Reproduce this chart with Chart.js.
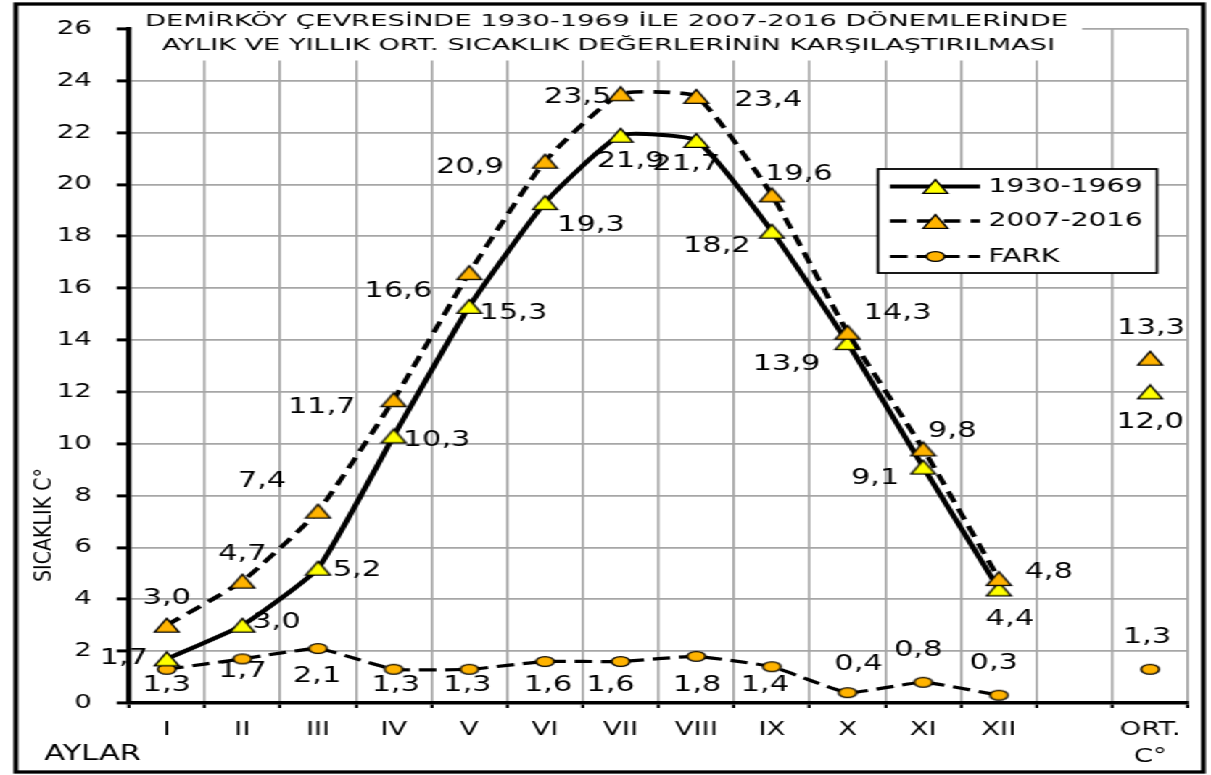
<!DOCTYPE html>
<html><head><meta charset="utf-8">
<script src="https://cdn.jsdelivr.net/npm/chart.js@4"></script>
<style>
html,body{margin:0;padding:0;background:#fff;overflow:hidden;width:1211px;height:775px}
#wrap{position:absolute;left:0;top:0;width:835px;height:775px;transform:scaleX(1.4503);transform-origin:0 0;background:#fff}
</style></head><body><div id="wrap"><canvas id="c"></canvas></div>
<script>
const categories = ['I','II','III','IV','V','VI','VII','VIII','IX','X','XI','XII','',['ORT.','C°']];
const series1930 = [1.7,3.0,5.2,10.3,15.3,19.3,21.9,21.7,18.2,13.9,9.1,4.4,null,12.0];
const series2007 = [3.0,4.7,7.4,11.7,16.6,20.9,23.5,23.4,19.6,14.3,9.8,4.8,null,13.3];
const seriesFark = [1.3,1.7,2.1,1.3,1.3,1.6,1.6,1.8,1.4,0.4,0.8,0.3,null,1.3];
const seriesNames = ['1930-1969','2007-2016','FARK'];
const yMin = 0, yMax = 26, yStep = 2;
const titleLines = ['DEMİRKÖY ÇEVRESİNDE 1930-1969 İLE 2007-2016 DÖNEMLERİNDE','AYLIK VE YILLIK ORT. SICAKLIK DEĞERLERİNİN KARŞILAŞTIRILMASI'];
const yAxisTitle = 'SICAKLIK C°';
const xAxisTitle = 'AYLAR';

const off1930 = [[-43,0],[34,-3],[39,2],[43,5],[44,7],[46,23],[10,26],[-10,24],[-55,15],[-61,22],[-48,11],[11,31],null,[0,31]];
const off2007 = [[0,-27],[0,-27],[-56,-30],[-72,8],[-71,19],[-75,6],[-43,4],[72,4],[27,-20],[50,-19],[29,-17],[50,-6],null,[1,-30]];
const offFark = [[0,16],[0,13],[-1,28],[2,16],[-2,16],[3,24],[-10,24],[1,29],[-7,19],[11,-28],[-5,-32],[-5,-32],null,[-3,-32]];

const S = 1.4503;
const FONT = 'DejaVu Sans';
function fmt(v){return v.toFixed(1).replace('.',',');}

function pathTriangle(g, cx, cy){
  g.beginPath(); g.moveTo(cx, cy-6.9); g.lineTo(cx-8.4, cy+6.9); g.lineTo(cx+8.4, cy+6.9); g.closePath();
}
function pathEllipse(g, cx, cy){
  g.beginPath(); g.ellipse(cx, cy, 6.2, 4.9, 0, 0, Math.PI*2); g.closePath();
}
function makeMarker(pathFn, fill, w, h){
  const c=document.createElement('canvas'); c.width=w; c.height=h;
  const g=c.getContext('2d');
  pathFn(g, w/2, h/2);
  g.fillStyle=fill; g.fill(); g.lineWidth=1.4; g.strokeStyle='#000'; g.stroke();
  return c;
}
const triYellow = makeMarker(pathTriangle, '#FFFF00', 20, 17);
const triOrange = makeMarker(pathTriangle, '#FFB300', 20, 17);
const ellOrange = makeMarker(pathEllipse, '#FFB300', 16, 13);

const offsets = [off1930, off2007, offFark];

function fitText(ctx, text, cx, cy, targetW, font){
  ctx.font = font;
  const w = ctx.measureText(text).width;
  ctx.save(); ctx.translate(cx, cy); ctx.scale(targetW/w, 1);
  ctx.textAlign='center'; ctx.textBaseline='middle'; ctx.fillText(text, 0, 0);
  ctx.restore();
}

const decor = {
  id:'decor',
  beforeDatasetsDraw(chart){
    const ctx = chart.ctx;
    ctx.save();
    ctx.fillStyle='#fff';
    ctx.fillRect(91, 20, 746.2-91, 60.5-20);
    ctx.fillStyle='#000';
    fitText(ctx, titleLines[0], 418.2, 21.5, 636.4, '15.5px "'+FONT+'"');
    fitText(ctx, titleLines[1], 419.6, 45.5, 615.7, '15.5px "'+FONT+'"');
    ctx.restore();
  },
  afterDatasetsDraw(chart){
    const ctx = chart.ctx;
    ctx.save();
    ctx.fillStyle='#000';
    ctx.font='21px "'+FONT+'"';
    ctx.textAlign='center'; ctx.textBaseline='middle';
    chart.data.datasets.forEach((ds, d)=>{
      const meta = chart.getDatasetMeta(d);
      ds.data.forEach((v,i)=>{
        if (v===null) return;
        const el = meta.data[i];
        const o = offsets[d][i] || [0,0];
        ctx.fillText(fmt(v), el.x + o[0]/S, el.y + o[1]);
      });
    });
    ctx.restore();
  },
  afterDraw(chart){
    const ctx = chart.ctx;
    ctx.save();
    ctx.fillStyle='#000';
    ctx.font='16.5px "'+FONT+'"';
    const tw = ctx.measureText(yAxisTitle).width;
    ctx.translate(31, 525); ctx.rotate(-Math.PI/2); ctx.scale(114/tw,1);
    ctx.textAlign='center'; ctx.textBaseline='middle';
    ctx.fillText(yAxisTitle, 0, 0);
    ctx.restore();
    ctx.save();
    ctx.fillStyle='#000'; ctx.font='21px "'+FONT+'"';
    ctx.textAlign='center'; ctx.textBaseline='middle';
    ctx.fillText(xAxisTitle, 63.8, 754.5);
    ctx.restore();
    // legend
    ctx.save();
    const lx0=605.4, lx1=797.7, ly0=169, ly1=273;
    ctx.fillStyle='#fff'; ctx.fillRect(lx0, ly0, lx1-lx0, ly1-ly0);
    ctx.strokeStyle='#000'; ctx.lineWidth=1.8; ctx.strokeRect(lx0, ly0, lx1-lx0, ly1-ly0);
    const rows=[186.5,221,256.5];
    const styles=[
      {lw:4, dash:[], img:triYellow},
      {lw:3.7, dash:[11.5,7], img:triOrange},
      {lw:3.2, dash:[12,6], img:ellOrange}
    ];
    rows.forEach((y,k)=>{
      ctx.save();
      ctx.beginPath(); ctx.setLineDash(styles[k].dash); ctx.lineWidth=styles[k].lw; ctx.strokeStyle='#000';
      ctx.moveTo(613.7,y); ctx.lineTo(675.8,y); ctx.stroke();
      ctx.restore();
    });
    rows.forEach((y,k)=>{
      const im = styles[k].img;
      ctx.drawImage(im, Math.round(644.8 - im.width/2), Math.round(y - im.height/2));
    });
    rows.forEach((y,k)=>{
      ctx.fillStyle='#000'; ctx.font='19.5px "'+FONT+'"'; ctx.textAlign='left'; ctx.textBaseline='middle';
      ctx.fillText(seriesNames[k], 681.5, y);
    });
    ctx.restore();
    ctx.save();
    ctx.strokeStyle='#000'; ctx.lineWidth=3.3;
    ctx.strokeRect(10.9, 4, 829.8-10.9, 772-4);
    ctx.restore();
  }
};

new Chart(document.getElementById('c'), {
  type:'line',
  data:{labels:categories, datasets:[
    {label:seriesNames[0], data:series1930, borderColor:'#000', borderWidth:4, tension:0.15, pointStyle:triYellow, pointRadius:8, order:1, spanGaps:false, fill:false},
    {label:seriesNames[1], data:series2007, borderColor:'#000', borderWidth:3.7, borderDash:[11.5,7], tension:0.15, pointStyle:triOrange, pointRadius:8, order:0, spanGaps:false, fill:false},
    {label:seriesNames[2], data:seriesFark, borderColor:'#000', borderWidth:3.2, borderDash:[12,6], tension:0.12, pointStyle:ellOrange, pointRadius:6, order:2, spanGaps:false, fill:false}
  ]},
  options:{
    responsive:true, maintainAspectRatio:false, animation:false, events:[], devicePixelRatio:1,
    layout:{padding:{top:29,right:15.9,left:0,bottom:0}},
    plugins:{legend:{display:false}, title:{display:false}, tooltip:{enabled:false}},
    scales:{
      x:{type:'category', offset:true,
        grid:{offset:true, color:'#a6a6a6', lineWidth:1.7, drawTicks:true, tickLength:5, tickColor:'#000', tickWidth:2.2},
        border:{display:true, color:'#000', width:3.5},
        ticks:{color:'#000', font:{family:FONT, size:19, lineHeight:1.42}, padding:8.5, maxRotation:0, minRotation:0, autoSkip:false},
        afterFit(s){ s.height = 72; }
      },
      y:{min:yMin, max:yMax,
        ticks:{stepSize:yStep, color:'#000', font:{family:FONT, size:19}, padding:17.2},
        grid:{color:'#a6a6a6', lineWidth:1.8, drawTicks:true, tickLength:8.3, tickColor:'#000', tickWidth:3},
        border:{display:true, color:'#000', width:3.5},
        afterFit(s){ s.width = 88.9; }
      }
    }
  },
  plugins:[decor]
});
</script></body></html>
